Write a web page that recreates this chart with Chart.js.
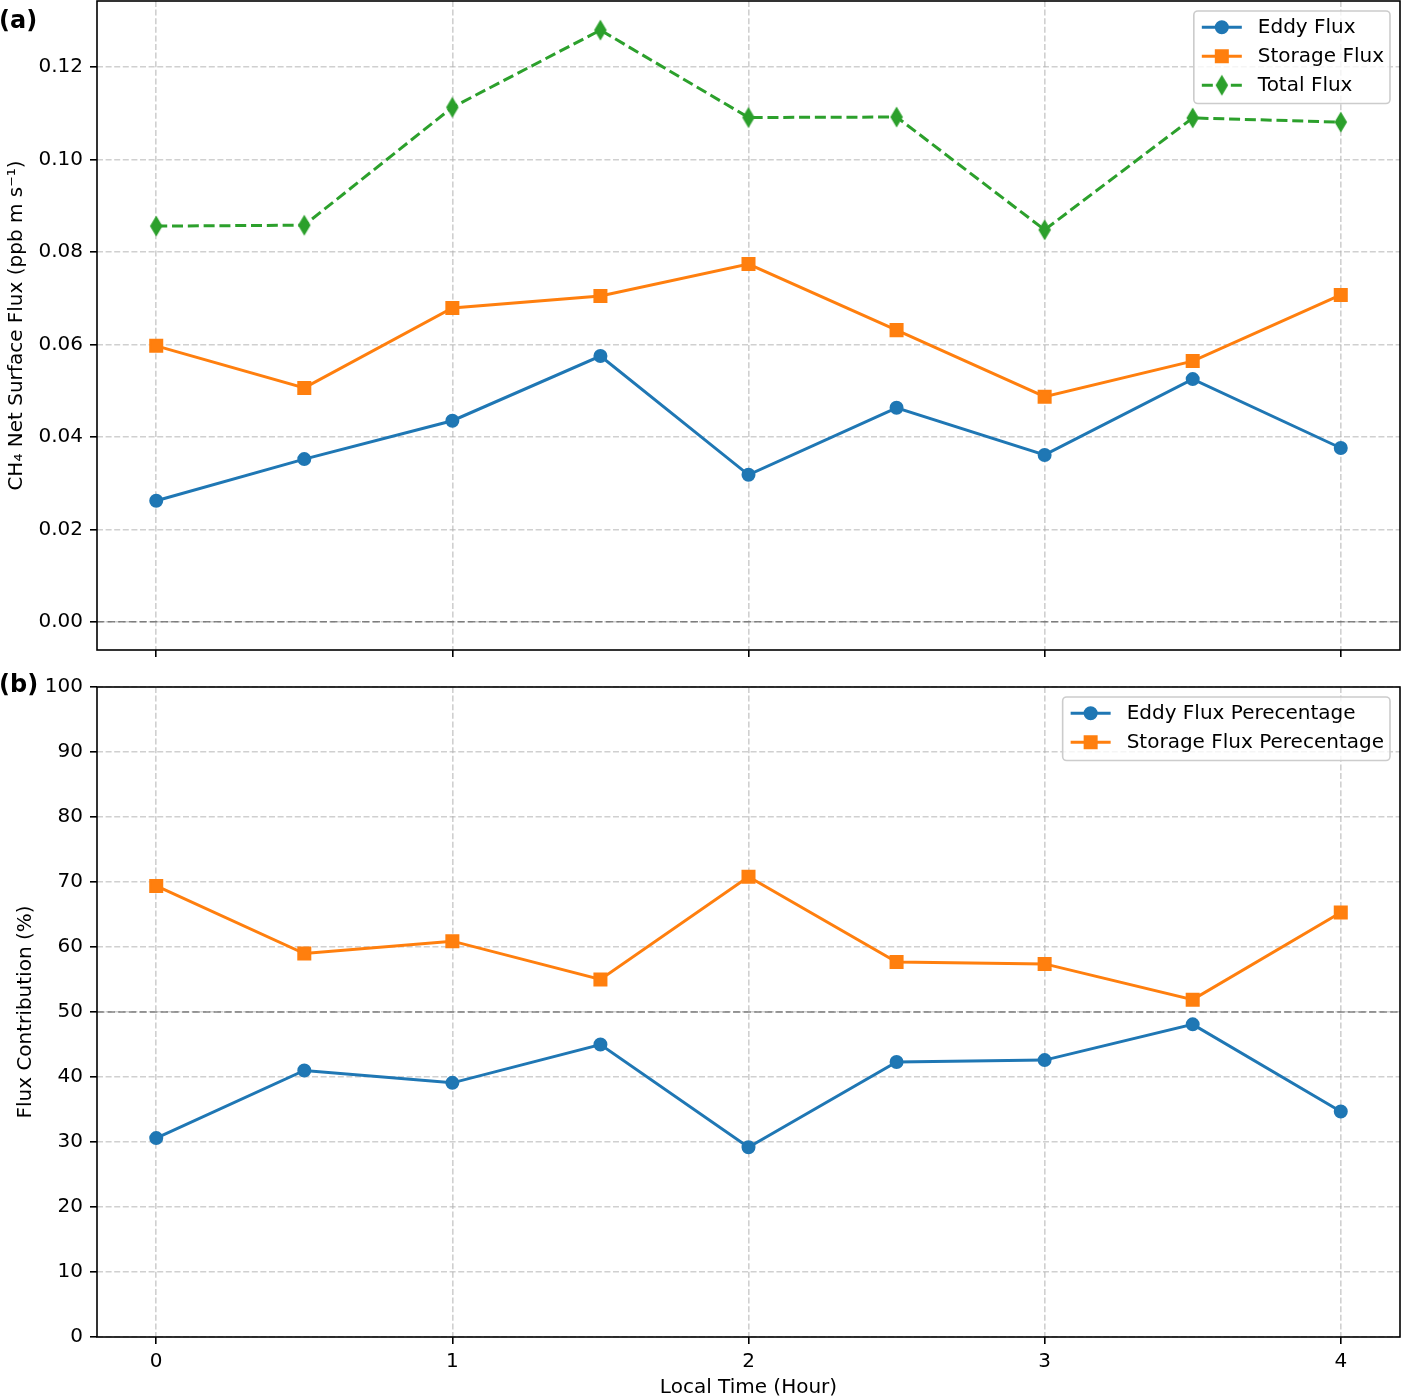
<!DOCTYPE html>
<html><head><meta charset="utf-8">
<script src="https://cdn.jsdelivr.net/npm/chart.js@4/dist/chart.umd.min.js"></script>
<style>
html,body{margin:0;padding:0;background:#fff;}
#wrap{position:relative;width:1402px;height:1398px;overflow:hidden;background:#fff;}
canvas{position:absolute;left:0;}
.panel{position:absolute;font-family:'DejaVu Sans',sans-serif;font-weight:bold;font-size:24px;line-height:24px;color:#000;}
</style></head><body>
<div id="wrap">
<canvas id="cTop" width="1402" height="668" style="top:0px"></canvas>
<canvas id="cBot" width="1402" height="730" style="top:668px"></canvas>
<div class="panel" style="left:-1px;top:8px">(a)</div>
<div class="panel" style="left:-1px;top:672px">(b)</div>
</div>
<script>
// ---- data ----
const hours = [0, 0.5, 1, 1.5, 2, 2.5, 3, 3.5, 4];
const eddyFlux    = [0.0262, 0.0352, 0.0435, 0.0575, 0.0318, 0.0463, 0.0361, 0.0525, 0.0376];
const storageFlux = [0.0597, 0.0506, 0.0679, 0.0705, 0.0774, 0.0631, 0.0487, 0.0564, 0.0707];
const totalFlux   = [0.0856, 0.0858, 0.1113, 0.1280, 0.1091, 0.1092, 0.0848, 0.1090, 0.1081];
const eddyPct     = [30.6, 41.0, 39.1, 45.0, 29.2, 42.3, 42.6, 48.1, 34.7];
const storagePct  = [69.4, 59.0, 60.9, 55.0, 70.8, 57.7, 57.4, 51.9, 65.3];
const xTicks = [0, 1, 2, 3, 4];
const topYTicks = [0, 0.02, 0.04, 0.06, 0.08, 0.10, 0.12];
const botYTicks = [0, 10, 20, 30, 40, 50, 60, 70, 80, 90, 100];
const topLabels = ['Eddy Flux', 'Storage Flux', 'Total Flux'];
const botLabels = ['Eddy Flux Perecentage', 'Storage Flux Perecentage'];

const BLUE = '#1f77b4', ORANGE = '#ff7f0e', GREEN = '#2ca02c';
const FAM = "'DejaVu Sans', sans-serif";
const FONT = {family: FAM, size: 20};

// thin diamond marker
function makeDiamond(color) {
  const c = document.createElement('canvas');
  c.width = 16; c.height = 26;
  const g = c.getContext('2d');
  const cx = 8, cy = 13, hw = 5.1, hh = 8.5;
  g.beginPath();
  g.moveTo(cx, cy - hh); g.lineTo(cx + hw, cy); g.lineTo(cx, cy + hh); g.lineTo(cx - hw, cy); g.closePath();
  g.fillStyle = color; g.strokeStyle = color; g.lineWidth = 2; g.lineJoin = 'miter';
  g.fill(); g.stroke();
  return c;
}
const diamond = makeDiamond(GREEN);

function pts(ys) { return hours.map((h, i) => ({x: h, y: ys[i]})); }

function ds(label, ys, color, style, extra) {
  return Object.assign({
    label, data: pts(ys), borderColor: color, backgroundColor: color,
    pointBackgroundColor: color, pointBorderColor: color,
    borderWidth: 3, pointBorderWidth: 2,
    pointStyle: style, pointRadius: style === 'rect' ? 8.5 : 6, pointHoverRadius: style === 'rect' ? 8.5 : 6,
    tension: 0, fill: false
  }, extra || {});
}

const gridCfg = {color: 'rgba(176,176,176,0.6)', lineWidth: 1.6, tickColor: '#000', tickWidth: 1.6, tickLength: 7, drawTicks: true, borderDash: [6, 2.6]};
const borderCfg = {display: false, dash: [6, 2.6]};

function xScale(showLabels, height) {
  return {
    type: 'linear', min: -0.2, max: 4.2,
    afterBuildTicks: s => { s.ticks = xTicks.map(v => ({value: v})); },
    afterFit: s => { s.height = height; s.paddingLeft = 0; s.paddingRight = 0; },
    grid: gridCfg, border: borderCfg,
    ticks: {display: showLabels, font: FONT, color: '#000', padding: 6, maxRotation: 0, callback: v => String(v)},
    title: showLabels ? {display: true, text: 'Local Time (Hour)', font: {family: FAM, size: 20, lineHeight: 1}, color: '#000', padding: {top: 0, bottom: 0}} : {display: false}
  };
}
function yScale(min, max, ticks, fmt, title, pad) {
  return {
    type: 'linear', min, max,
    afterBuildTicks: s => { s.ticks = ticks.map(v => ({value: v})); },
    afterFit: s => { s.width = 97; s.paddingTop = 0; s.paddingBottom = 0; },
    grid: gridCfg, border: borderCfg,
    ticks: {font: FONT, color: '#000', padding: 7, callback: fmt},
    title: {display: true, text: title, font: {family: FAM, size: 20, lineHeight: 1.2}, color: '#000', padding: {top: pad, bottom: 0}}
  };
}

// plugin: reference line, frame and matplotlib-like legend
const mplPlugin = {
  id: 'mpl',
  beforeDatasetsDraw(chart, args, opts) {
    const {ctx, chartArea: a} = chart;
    const y = chart.scales.y.getPixelForValue(opts.refY);
    ctx.save();
    ctx.strokeStyle = 'rgba(110,110,110,0.85)'; ctx.lineWidth = 1.6;
    ctx.setLineDash([7.4, 3.2]);
    ctx.beginPath(); ctx.moveTo(a.left, y); ctx.lineTo(a.right, y); ctx.stroke();
    ctx.restore();
  },
  afterDraw(chart, args, opts) {
    const {ctx, chartArea: a} = chart;
    ctx.save();
    ctx.strokeStyle = '#000'; ctx.lineWidth = 1.6; ctx.setLineDash([]);
    ctx.strokeRect(a.left, a.top, a.right - a.left, a.bottom - a.top);
    // legend
    ctx.font = '20px ' + FAM;
    const sets = chart.data.datasets;
    let tw = 0;
    sets.forEach(d => { tw = Math.max(tw, ctx.measureText(d.label).width); });
    const pad = 8, handle = 40, gap = 16, rowH = 18.5, spacing = 10.5;
    const w = pad + handle + gap + tw + pad - 2;
    const h = pad * 2 + rowH * sets.length + spacing * (sets.length - 1);
    const bx = a.right - 10 - w, by = a.top + 10;
    ctx.beginPath();
    if (ctx.roundRect) ctx.roundRect(bx, by, w, h, 4); else ctx.rect(bx, by, w, h);
    ctx.fillStyle = 'rgba(255,255,255,0.8)'; ctx.fill();
    ctx.strokeStyle = '#cccccc'; ctx.lineWidth = 1.6; ctx.stroke();
    sets.forEach((d, i) => {
      const cy = by + pad + rowH / 2 + i * (rowH + spacing) - 1;
      const hx = bx + pad;
      ctx.strokeStyle = d.borderColor; ctx.lineWidth = 3;
      ctx.setLineDash(d.borderDash || []);
      if (d.borderDash) {
        ctx.beginPath(); ctx.moveTo(hx, cy); ctx.lineTo(hx + 11, cy); ctx.stroke();
        ctx.beginPath(); ctx.moveTo(hx + 29, cy); ctx.lineTo(hx + handle, cy); ctx.stroke();
      } else {
        ctx.beginPath(); ctx.moveTo(hx, cy); ctx.lineTo(hx + handle, cy); ctx.stroke();
      }
      ctx.setLineDash([]);
      const mx = hx + handle / 2;
      ctx.fillStyle = d.borderColor; ctx.lineWidth = 2;
      if (d.pointStyle === 'circle') {
        ctx.beginPath(); ctx.arc(mx, cy, 6, 0, Math.PI * 2); ctx.fill(); ctx.stroke();
      } else if (d.pointStyle === 'rect') {
        ctx.beginPath(); ctx.rect(mx - 6, cy - 6, 12, 12); ctx.fill(); ctx.stroke();
      } else {
        ctx.drawImage(d.pointStyle, mx - d.pointStyle.width / 2, cy - d.pointStyle.height / 2);
      }
      ctx.fillStyle = '#000'; ctx.textBaseline = 'middle'; ctx.textAlign = 'left';
      ctx.fillText(d.label, hx + handle + gap, cy + 1);
    });
    ctx.restore();
  }
};

const common = {responsive: false, animation: false, devicePixelRatio: 1,
  plugins: {legend: {display: false}, tooltip: {enabled: false}}};

new Chart(document.getElementById('cTop'), {
  type: 'line',
  data: {datasets: [
    ds(topLabels[0], eddyFlux, BLUE, 'circle'),
    ds(topLabels[1], storageFlux, ORANGE, 'rect'),
    ds(topLabels[2], totalFlux, GREEN, diamond, {borderDash: [11, 4.8]})
  ]},
  options: Object.assign({}, common, {
    layout: {autoPadding: false, padding: {top: 1, right: 2, left: 0, bottom: 0}},
    plugins: Object.assign({}, common.plugins, {mpl: {refY: 0}}),
    scales: {
      x: xScale(false, 18),
      y: yScale(-0.0061, 0.1343, topYTicks, v => Number(v).toFixed(2), 'CH\u2084 Net Surface Flux (ppb m s\u207B\u00B9)', 5)
    }
  }),
  plugins: [mplPlugin]
});

new Chart(document.getElementById('cBot'), {
  type: 'line',
  data: {datasets: [
    ds(botLabels[0], eddyPct, BLUE, 'circle'),
    ds(botLabels[1], storagePct, ORANGE, 'rect')
  ]},
  options: Object.assign({}, common, {
    layout: {autoPadding: false, padding: {top: 19, right: 2, left: 0, bottom: 0}},
    plugins: Object.assign({}, common.plugins, {mpl: {refY: 50}}),
    scales: {
      x: xScale(true, 61),
      y: yScale(0, 100, botYTicks, v => String(v), 'Flux Contribution (%)', 14)
    }
  }),
  plugins: [mplPlugin]
});
</script>
</body></html>
